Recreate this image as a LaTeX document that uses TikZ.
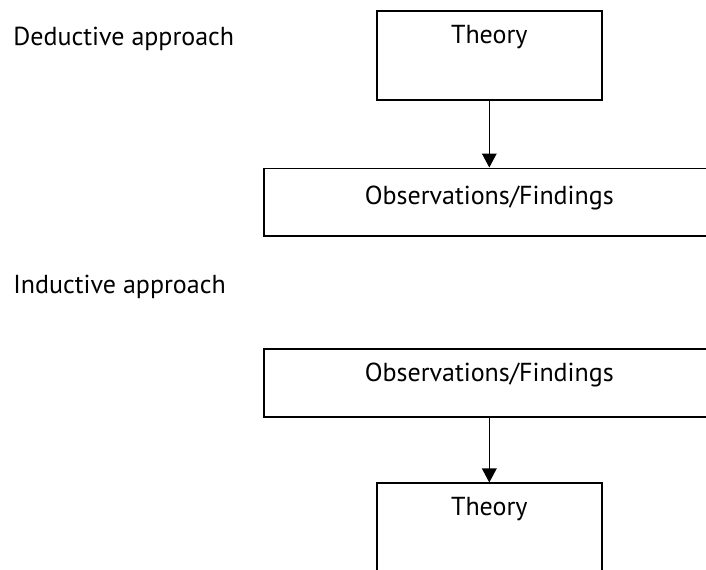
\documentclass[tikz,border=0pt]{standalone}
\usepackage{fontspec}
\setmainfont{PT Sans}
\usetikzlibrary{arrows.meta}

\tikzset{
    stagebox/.style={draw, line width=0.85pt, inner sep=0pt},
    theorybox/.style={stagebox, minimum width=112.65pt, minimum height=44.65pt},
    findbox/.style={stagebox, minimum width=225.3pt, minimum height=33.85pt},
    boxtext/.style={anchor=north, inner sep=0pt, yshift=-7.4pt},
    flow/.style={line width=0.7pt, -{Triangle[length=7pt,width=7.3pt]}}
}

\begin{document}
\begin{tikzpicture}[x=0.5pt,y=-0.5pt,font=\fontsize{13}{15}\selectfont]
        \useasboundingbox (0,0) rectangle (706,569);
        \clip (0,0) rectangle (706,569);
        % deductive
        \node [anchor=base west, inner sep=0pt] (dedtitle) at (13,45.7) {Deductive approach};
        \node [theorybox, label={[boxtext, name=theoryAtext]north:Theory}] (theoryA) at (489.3,55.35) {};
        \node [findbox, label={[boxtext, yshift=-1.5pt, name=obsAtext]north:Observations/Findings}] (obsA) at (489.3,202.2) {};
        \draw [flow] (theoryA) -- (obsA);
        % inductive
        \node [anchor=base west, inner sep=0pt] (indtitle) at (13,293) {Inductive approach};
        \node [findbox, label={[boxtext, name=obsBtext]north:Observations/Findings}] (obsB) at (489.3,382.85) {};
        \node [theorybox, label={[boxtext, name=theoryBtext]north:Theory}] (theoryB) at (489.3,527.95) {};
        \draw [flow] (obsB) -- (theoryB);
\end{tikzpicture}
\end{document}
